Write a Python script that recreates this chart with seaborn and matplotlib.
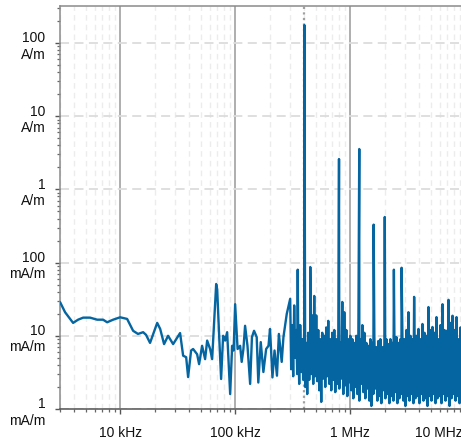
import numpy as np
import pandas as pd
import matplotlib
matplotlib.use("Agg")
import matplotlib.pyplot as plt
import matplotlib.ticker as mticker
import seaborn as sns

# smooth low-frequency part (kHz, mA/m)
low_freq_khz = [3.01, 3.32, 3.90, 4.31, 4.77, 5.48, 6.31, 7.11, 7.71, 8.69,
                10.0, 11.5, 12.97, 14.3, 15.85, 16.8, 18.2, 19.4, 21.0, 22.3,
                24.1, 26.1, 28.9, 33.2, 35.3, 37.5, 39.0, 41.4, 43.1, 46.7,
                48.6, 51.6, 54.8, 57.1, 60.6, 63.1, 64.4, 68.4, 69.8, 72.6,
                75.5, 78.6, 81.9, 85.2, 90.5, 94.2, 97.0, 100, 105, 110.5,
                114, 118, 122, 128, 135, 140, 146, 154, 159, 167,
                176, 186, 195, 201, 211, 220, 231, 240, 254, 263, 281]
low_field_mam = [28.7, 21, 15, 16.6, 17.7, 17.7, 16.6, 16.6, 15.3, 16.6,
                 17.9, 17, 11.7, 10.6, 11.2, 10.3, 8.0, 10.6, 15, 12.4,
                 7.7, 10, 7.7, 10.9, 5.35, 5.1, 2.73, 6.3, 6.6, 5.6,
                 4.1, 7.3, 4.8, 8.6, 6.6, 4.8, 8.6, 51, 43, 10,
                 2.57, 10, 8.6, 11.2, 1.6, 7.3, 6.3, 27, 6.6, 7.3,
                 4.4, 6.6, 13.7, 7.3, 2.2, 9.6, 11.7, 9.6, 2.3, 8.2,
                 3.2, 6.6, 7.3, 12.4, 2.7, 6.3, 2.85, 10.6, 4.4, 9.6, 19.9]

# dense noise above 300 kHz: peaks and troughs, read left to right
band_peak_mam = [32, 14, 26, 12, 10, 14, 9, 12, 8, 11,
                 9, 19, 35, 19, 12, 9, 11, 10, 13, 16,
                 9, 11, 12, 9, 10, 8, 29, 21, 12, 9,
                 10, 9, 8, 10, 8, 9, 14, 11, 8, 7.3,
                 9, 8, 10, 7, 8.5, 9, 7, 8, 9, 7.7,
                 9, 8, 10, 9.6, 8, 9, 10, 9, 12, 21,
                 10, 9, 12, 10, 12.4, 9, 14.5, 11, 10, 24.7,
                 12, 13.2, 11, 18, 9, 14, 27, 12, 11.7, 31,
                 15, 18.8, 12, 18, 9, 13]
band_trough_mam = [3.5, 2.8, 5, 3, 2.2, 3.2, 2.5, 2.0, 1.6, 2.5,
                   3, 2.2, 2.8, 2.4, 1.8, 1.25, 2.6, 2.0, 2.8, 2.2,
                   1.8, 2.5, 1.7, 2.2, 1.9, 2.6, 1.6, 2.1, 1.5, 2.3,
                   1.8, 1.4, 2.0, 1.6, 1.3, 2.2, 1.7, 1.4, 1.9, 1.3,
                   1.1, 1.6, 1.9, 1.3, 1.5, 1.2, 1.8, 1.4, 1.6, 1.2,
                   1.5, 1.3, 1.7, 1.2, 1.4, 1.6, 1.3, 1.1, 1.5, 1.3,
                   1.6, 1.2, 1.4, 1.5, 1.2, 1.6, 1.3, 1.4, 1.1, 1.5,
                   1.3, 1.6, 1.2, 1.4, 1.5, 1.2, 1.6, 1.3, 1.5, 1.1,
                   1.4, 1.6, 1.3, 1.5, 1.2, 1.4]

# harmonic spikes
spike_freq_khz = [350, 400, 450, 800, 1200, 1600, 2000, 2400, 2800, 3600]
spike_field_mam = [80, 176000, 87, 2600, 3560, 330, 420, 80, 85, 34]

marker_freq_hz = 4e5

x_ticks = [1e4, 1e5, 1e6]
x_tick_labels = ["10 kHz", "100 kHz", "1 MHz"]
y_ticks = [1e-3, 1e-2, 1e-1, 1e0, 1e1, 1e2]
y_tick_labels = ["1\nmA/m", "10\nmA/m", "100\nmA/m", "1\nA/m", "10\nA/m", "100\nA/m"]

# build the series
band_vals = np.column_stack([band_peak_mam, band_trough_mam]).ravel()
band_freq = np.geomspace(301, 9300, len(band_vals))
f = np.concatenate([low_freq_khz, band_freq, spike_freq_khz])
v = np.concatenate([low_field_mam, band_vals, spike_field_mam])
order = np.argsort(f, kind="stable")
df = pd.DataFrame({"freq": f[order] * 1e3, "field": v[order] / 1e3})

sns.set_style("white")
plt.rcParams["font.family"] = ["Liberation Sans", "DejaVu Sans"]

fig = plt.figure(figsize=(4.61, 4.39), dpi=100)
ax = fig.add_axes([60 / 461, 29 / 439, 401 / 461, 403 / 439])

ax.axvline(marker_freq_hz, color="#a0a0a0", ls=(0, (1, 1.5)), lw=1.6, zorder=1)
sns.lineplot(data=df, x="freq", y="field", ax=ax, color="#0565a1", lw=1.7,
             sort=False, estimator=None, zorder=3)

ax.set_xscale("log")
ax.set_yscale("log")
ax.set_xlim(3e3, 9.2e6)
ax.set_ylim(1e-3, 320)

ax.set_xticks(x_ticks)
ax.set_xticklabels(x_tick_labels)
ax.set_yticks(y_ticks)
ax.set_yticklabels(y_tick_labels)
ax.xaxis.set_minor_locator(mticker.LogLocator(base=10, subs=np.arange(2, 10), numticks=20))
ax.yaxis.set_minor_locator(mticker.LogLocator(base=10, subs=np.arange(2, 10), numticks=20))
ax.xaxis.set_minor_formatter(mticker.NullFormatter())
ax.yaxis.set_minor_formatter(mticker.NullFormatter())
ax.set_xlabel("")
ax.set_ylabel("")

ax.tick_params(which="major", length=3.5, width=1, color="#555555",
               labelsize=10, labelcolor="#111111", direction="out")
ax.tick_params(which="minor", length=2.2, width=0.9, color="#666666", direction="out")
ax.tick_params(axis="y", which="major", pad=7)
ax.tick_params(axis="x", which="major", pad=8)
ax.tick_params(bottom=True, left=True, which="both")
for lbl in ax.get_yticklabels():
    lbl.set_linespacing(1.2)

ax.grid(which="major", axis="x", color="#a8a8a8", lw=1.3, ls="-")
ax.grid(which="minor", axis="x", color="#ececec", lw=1.0, ls=(0, (4, 3)))
ax.grid(which="major", axis="y", color="#dcdcdc", lw=1.3, ls=(0, (5, 3)))
ax.set_axisbelow(True)

for side in ["left", "top"]:
    ax.spines[side].set_color("#8a8a8a")
    ax.spines[side].set_linewidth(1.1)
ax.spines["bottom"].set_color("#555555")
ax.spines["bottom"].set_linewidth(1.1)
ax.spines["right"].set_visible(False)

ax.annotate("10 MHz", xy=(1, 0), xycoords="axes fraction", xytext=(1, -11.5),
            textcoords="offset points", ha="right", va="top",
            fontsize=10, color="#111111")

fig.savefig("out.png", dpi=100)
